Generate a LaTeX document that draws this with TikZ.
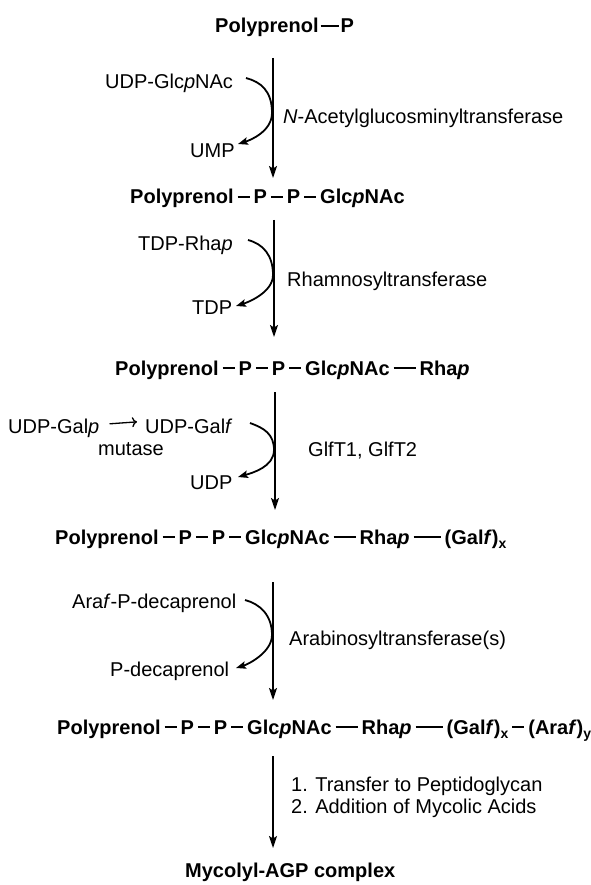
\documentclass[tikz,border=0pt]{standalone}
\usepackage{fontspec}
\setmainfont{Liberation Sans}
\usetikzlibrary{arrows.meta}
\newcommand\mybond[2]{\hspace{#1}\rule[6pt]{#2}{2.2pt}\hspace{#1}}
\newcommand\mysub[1]{\raisebox{-4pt}{\fontsize{14}{14}\selectfont #1}}
\begin{document}
\begin{tikzpicture}[x=1pt,y=-1pt,
  cpd/.style={font=\fontsize{20}{24}\selectfont\bfseries, inner sep=0pt, anchor=base west},
  lbl/.style={font=\fontsize{20}{24}\selectfont, inner sep=0pt, anchor=base west},
  mainarrow/.style={line width=1.5pt, -{Stealth[length=12pt,width=8pt,inset=2.5pt]}},
  sidearrow/.style={line width=1.8pt, -{Stealth[length=10pt,width=7.5pt,inset=2pt]}},
  garrow/.style={line width=1.3pt, -{To[length=5pt,width=10pt]}}]
\useasboundingbox (0,0) rectangle (590,885);

% compounds
\node[cpd] (c1) at (215,33) {Polyprenol\mybond{2pt}{18pt}P};
\node[cpd] (c2) at (130,204) {Polyprenol\mybond{4pt}{12pt}P\mybond{4pt}{12pt}P\mybond{4pt}{12pt}Glc\textit{p}NAc};
\node[cpd] (c3) at (115,375) {Polyprenol\mybond{4pt}{12pt}P\mybond{4pt}{12pt}P\mybond{4pt}{12pt}Glc\textit{p}NAc\mybond{4pt}{22pt}Rha\textit{p}};
\node[cpd] (c4) at (55,544) {Polyprenol\mybond{4pt}{12pt}P\mybond{4pt}{12pt}P\mybond{4pt}{12pt}Glc\textit{p}NAc\mybond{4pt}{22pt}Rha\textit{p}\mybond{4pt}{27pt}(Gal\textit{f})\mysub{x}};
\node[cpd] (c5) at (57,734) {Polyprenol\mybond{4pt}{12pt}P\mybond{4pt}{12pt}P\mybond{4pt}{12pt}Glc\textit{p}NAc\mybond{4pt}{22pt}Rha\textit{p}\mybond{4pt}{27pt}(Gal\textit{f})\mysub{x}\mybond{4pt}{12pt}(Ara\textit{f})\mysub{y}};
\node[cpd] (c6) at (185,877) {Mycolyl-AGP complex};

% step 1
\coordinate (a1s) at (273,58);
\coordinate (a1e) at (273,178);
\draw[mainarrow] (a1s) -- (a1e);
\node[lbl] (r1in) at (105,89) {UDP-Glc\textit{p}NAc};
\node[lbl] (r1out) at (190,158) {UMP};
\node[lbl] (e1) at (283,124) {\textit{N}-Acetylglucosminyltransferase};
\coordinate (s1) at (246,78);
\coordinate (t1) at (272,113);
\coordinate (u1) at (238,144);
\draw[sidearrow] (s1) .. controls +(15,4) and +(0,-22) .. (t1) .. controls +(0,18) and +(13,-4) .. (u1);

% step 2
\coordinate (a2s) at (274,220);
\coordinate (a2e) at (274,337);
\draw[mainarrow] (a2s) -- (a2e);
\node[lbl] (r2in) at (138,250) {TDP-Rha\textit{p}};
\node[lbl] (r2out) at (192,314) {TDP};
\node[lbl] (e2) at (287,286) {Rhamnosyltransferase};
\coordinate (s2) at (248,240);
\coordinate (t2) at (273,275);
\coordinate (u2) at (236,306);
\draw[sidearrow] (s2) .. controls +(15,4) and +(0,-20) .. (t2) .. controls +(0,17) and +(13,-4) .. (u2);

% step 3
\coordinate (a3s) at (275,392);
\coordinate (a3e) at (275,510);
\draw[mainarrow] (a3s) -- (a3e);
\node[lbl] (galp) at (8,433) {UDP-Gal\textit{p}};
\node[lbl] (galf) at (145,433) {UDP-Gal\textit{f}};
\draw[garrow] ([xshift=10pt,yshift=4pt]galp.east) -- ([xshift=-8pt,yshift=4pt]galf.west);
\node[lbl] (mut) at (98,455) {mutase};
\node[lbl] (r3out) at (190,489) {UDP};
\node[lbl] (e3) at (308,456) {GlfT1, GlfT2};
\coordinate (s3) at (250,423);
\coordinate (t3) at (274,450);
\coordinate (u3) at (238,477);
\draw[sidearrow] (s3) .. controls +(14,5) and +(0,-16) .. (t3) .. controls +(0,17) and +(14,-4) .. (u3);

% step 4
\coordinate (a4s) at (273,582);
\coordinate (a4e) at (273,700);
\draw[mainarrow] (a4s) -- (a4e);
\node[lbl] (r4in) at (72,608) {Ara\textit{f}-P-decaprenol};
\node[lbl] (r4out) at (110,676) {P-decaprenol};
\node[lbl] (e4) at (289,645) {Arabinosyltransferase(s)};
\coordinate (s4) at (245,600);
\coordinate (t4) at (272,635);
\coordinate (u4) at (236,668);
\draw[sidearrow] (s4) .. controls +(15,4) and +(0,-20) .. (t4) .. controls +(0,17) and +(13,-4) .. (u4);

% step 5
\coordinate (a5s) at (273,756);
\coordinate (a5e) at (273,848);
\draw[mainarrow] (a5s) -- (a5e);
\node[lbl] (t5a) at (291,791) {1. Transfer to Peptidoglycan};
\node[lbl] (t5b) at (291,813) {2. Addition of Mycolic Acids};
\end{tikzpicture}
\end{document}
